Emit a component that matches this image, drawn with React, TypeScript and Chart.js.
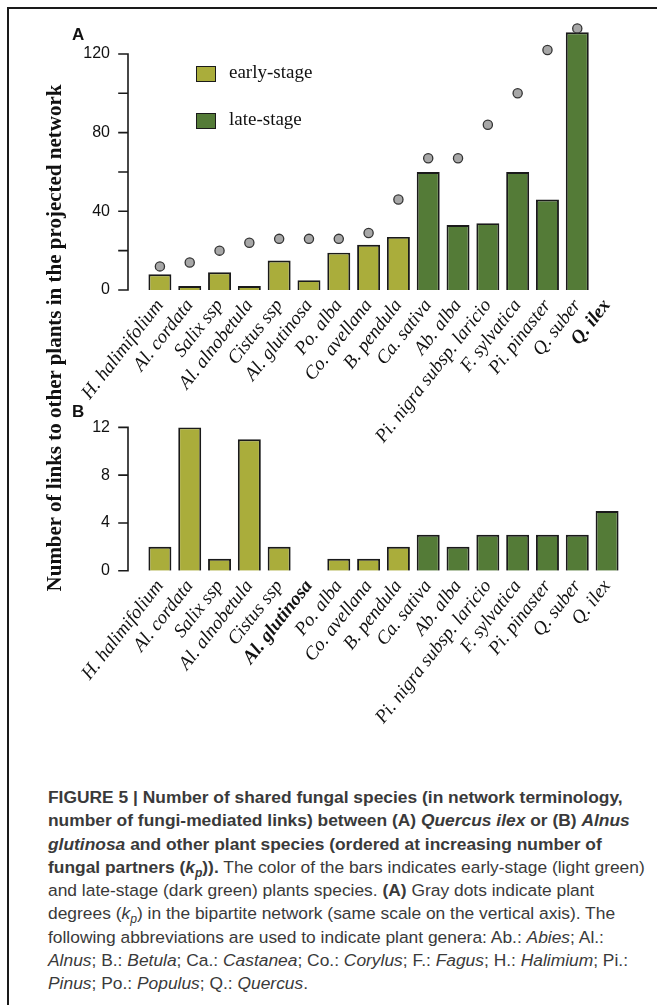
import React, { useEffect, useRef } from "react";
import { Chart, registerables } from "chart.js";

Chart.register(...registerables);

// ---------- data ----------
const species = [
  "H. halimifolium",
  "Al. cordata",
  "Salix ssp",
  "Al. alnobetula",
  "Cistus ssp",
  "Al. glutinosa",
  "Po. alba",
  "Co. avellana",
  "B. pendula",
  "Ca. sativa",
  "Ab. alba",
  "Pi. nigra subsp. laricio",
  "F. sylvatica",
  "Pi. pinaster",
  "Q. suber",
  "Q. ilex",
];
const stage = [
  "early", "early", "early", "early", "early", "early", "early", "early", "early",
  "late", "late", "late", "late", "late", "late", "late",
];
// Panel A: links to Quercus ilex
const linksQuercusIlex = [8, 2, 9, 2, 15, 5, 19, 23, 27, 60, 33, 34, 60, 46, 131, null];
// Panel A: plant degrees k_p (gray dots)
const plantDegrees = [12, 14, 20, 24, 26, 26, 26, 29, 46, 67, 67, 84, 100, 122, 133, null];
// Panel B: links to Alnus glutinosa
const linksAlnusGlutinosa = [2, 12, 1, 11, 2, null, 1, 1, 2, 3, 2, 3, 3, 3, 3, 5];

const ticksA = [0, 20, 40, 60, 80, 100, 120];
const labeledTicksA = [0, 40, 80, 120];
const ticksB = [0, 4, 8, 12];

const EARLY = "#aaad3b";
const LATE = "#547b37";
const INK = "#1a1a1a";

const SERIF = "'Liberation Serif', 'Times New Roman', serif";
const SANS = "'Liberation Sans', Arial, sans-serif";

function leftAxisPlugin(tickValues: number[], axisX: number) {
  return {
    id: "leftAxis",
    afterDraw(chart: any) {
      const y = chart.scales.y;
      const ctx = chart.ctx;
      const maxV = tickValues[tickValues.length - 1];
      ctx.save();
      ctx.strokeStyle = INK;
      ctx.lineWidth = 1.6;
      ctx.lineCap = "square";
      ctx.beginPath();
      ctx.moveTo(axisX, y.getPixelForValue(maxV));
      ctx.lineTo(axisX, y.getPixelForValue(0));
      tickValues.forEach((v) => {
        const p = y.getPixelForValue(v);
        ctx.moveTo(axisX - 9, p);
        ctx.lineTo(axisX, p);
      });
      ctx.stroke();
      ctx.restore();
    },
  };
}

function makeConfig(opts: {
  bars: (number | null)[];
  dots?: (number | null)[];
  yMax: number;
  step: number;
  tickValues: number[];
  labeled: number[];
  boldIndex: number;
  padTop: number;
  xHeight: number;
}) {
  const datasets: any[] = [];
  if (opts.dots) {
    datasets.push({
      type: "line",
      data: opts.dots,
      showLine: false,
      pointRadius: 4.6,
      pointBorderWidth: 1.3,
      pointBackgroundColor: "#a7a7a7",
      pointBorderColor: "#333333",
      order: 0,
    });
  }
  datasets.push({
    type: "bar",
    data: opts.bars,
    backgroundColor: stage.map((s) => (s === "early" ? EARLY : LATE)),
    borderColor: INK,
    borderWidth: 1.9,
    categoryPercentage: 1,
    barPercentage: 0.77,
    order: 1,
  });
  return {
    type: "bar",
    data: { labels: species, datasets },
    options: {
      responsive: false,
      animation: false,
      events: [],
      layout: { autoPadding: false, padding: { top: opts.padTop, right: 35, left: 0, bottom: 0 } },
      plugins: { legend: { display: false }, tooltip: { enabled: false } },
      scales: {
        x: {
          offset: true,
          grid: { display: false, drawTicks: false },
          border: { display: false },
          afterFit: (scale: any) => {
            scale.height = opts.xHeight;
          },
          ticks: {
            autoSkip: false,
            minRotation: 52,
            maxRotation: 52,
            padding: 5,
            color: "#111",
            font: (ctx: any) => ({
              family: SERIF,
              size: 19,
              style: "italic",
              weight: ctx.index === opts.boldIndex ? "bold" : "normal",
            }),
          },
        },
        y: {
          min: 0,
          max: opts.yMax,
          grid: { display: false, drawTicks: false },
          border: { display: false },
          afterFit: (scale: any) => {
            scale.width = 145;
            scale.paddingTop = 0;
            scale.paddingBottom = 0;
          },
          ticks: {
            stepSize: opts.step,
            includeBounds: false,
            padding: 35,
            color: "#111",
            font: { family: SANS, size: 16 },
            callback: (v: any) => (opts.labeled.includes(Number(v)) ? String(v) : ""),
          },
        },
      },
    },
    plugins: [leftAxisPlugin(opts.tickValues, 128)],
  };
}

function Panel(props: { top: number; height: number; config: any }) {
  const ref = useRef<HTMLCanvasElement | null>(null);
  useEffect(() => {
    if (!ref.current) return;
    const chart = new Chart(ref.current, props.config);
    return () => chart.destroy();
  }, []);
  return (
    <canvas
      ref={ref}
      width={657}
      height={props.height}
      style={{ position: "absolute", left: 0, top: props.top, width: 657, height: props.height }}
    />
  );
}

const legendItems = [
  { label: "early-stage", color: EARLY, top: 66 },
  { label: "late-stage", color: LATE, top: 113 },
];

export default function App() {
  const configA = makeConfig({
    bars: linksQuercusIlex,
    dots: plantDegrees,
    yMax: 136,
    step: 20,
    tickValues: ticksA,
    labeled: labeledTicksA,
    boldIndex: 15,
    padTop: 22.5,
    xHeight: 180,
  });
  const configB = makeConfig({
    bars: linksAlnusGlutinosa,
    yMax: 12.4,
    step: 4,
    tickValues: ticksB,
    labeled: ticksB,
    boldIndex: 5,
    padTop: 22.6,
    xHeight: 179.3,
  });

  const cap: React.CSSProperties = {
    position: "absolute",
    left: 48,
    whiteSpace: "nowrap",
    fontFamily: SANS,
    fontSize: 17.4,
    color: "#3a3a3a",
    lineHeight: "23px",
  };
  const lines: React.ReactNode[] = [
    <b>FIGURE 5 | Number of shared fungal species (in network terminology,</b>,
    <b>
      number of fungi-mediated links) between (A) <i>Quercus ilex</i> or (B) <i>Alnus</i>
    </b>,
    <b>
      <i>glutinosa</i> and other plant species (ordered at increasing number of
    </b>,
    <>
      <b>
        fungal partners (<i>k</i>
        <sub style={{ fontSize: "0.7em" }}>
          <i>p</i>
        </sub>
        )).
      </b>{" "}
      The color of the bars indicates early-stage (light green)
    </>,
    <>
      and late-stage (dark green) plants species. <b>(A)</b> Gray dots indicate plant
    </>,
    <>
      degrees (<i>k</i>
      <sub style={{ fontSize: "0.7em" }}>
        <i>p</i>
      </sub>
      ) in the bipartite network (same scale on the vertical axis). The
    </>,
    <>
      following abbreviations are used to indicate plant genera: Ab.: <i>Abies</i>; Al.:
    </>,
    <>
      <i>Alnus</i>; B.: <i>Betula</i>; Ca.: <i>Castanea</i>; Co.: <i>Corylus</i>; F.: <i>Fagus</i>; H.:{" "}
      <i>Halimium</i>; Pi.:
    </>,
    <>
      <i>Pinus</i>; Po.: <i>Populus</i>; Q.: <i>Quercus</i>.
    </>,
  ];

  return (
    <div
      style={{
        position: "absolute",
        left: 0,
        top: 0,
        width: 657,
        height: 1005,
        overflow: "hidden",
        background: "#ffffff",
      }}
    >
      {/* frame */}
      <div
        style={{
          position: "absolute",
          left: 7,
          top: 7,
          width: 800,
          height: 1200,
          borderLeft: `2px solid ${INK}`,
          borderTop: `2px solid ${INK}`,
        }}
      />
      <Panel top={0} height={470} config={configA} />
      <Panel top={400} height={350} config={configB} />

      {/* panel letters */}
      <div style={{ position: "absolute", left: 72, top: 25, font: `bold 17px ${SANS}`, color: "#111" }}>A</div>
      <div style={{ position: "absolute", left: 72, top: 402, font: `bold 17px ${SANS}`, color: "#111" }}>B</div>

      {/* y axis title */}
      <div
        style={{
          position: "absolute",
          left: 54,
          top: 338,
          transform: "translate(-50%, -50%) rotate(-90deg)",
          whiteSpace: "nowrap",
          font: `bold 21px ${SERIF}`,
          color: "#111",
        }}
      >
        Number of links to other plants in the projected network
      </div>

      {/* legend */}
      {legendItems.map((it) => (
        <React.Fragment key={it.label}>
          <div
            style={{
              position: "absolute",
              left: 196,
              top: it.top,
              width: 18,
              height: 14,
              background: it.color,
              border: `1.6px solid ${INK}`,
            }}
          />
          <div
            style={{
              position: "absolute",
              left: 229,
              top: it.top - 5,
              font: `19px ${SERIF}`,
              color: "#111",
              whiteSpace: "nowrap",
            }}
          >
            {it.label}
          </div>
        </React.Fragment>
      ))}

      {/* caption */}
      {lines.map((l, i) => (
        <div key={i} style={{ ...cap, top: 786 + i * 23.25 }}>
          {l}
        </div>
      ))}
    </div>
  );
}
